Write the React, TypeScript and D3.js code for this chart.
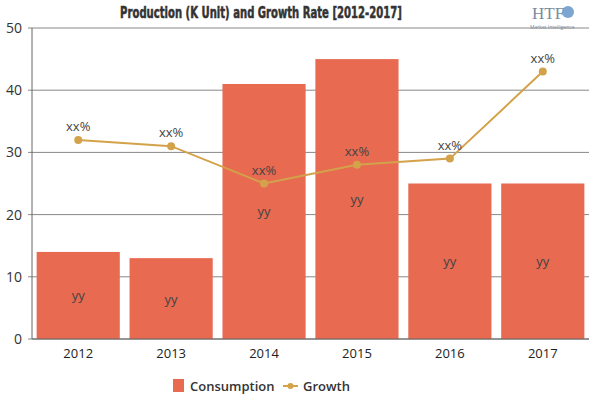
import React from "react";
import * as d3 from "d3";

const years = ["2012", "2013", "2014", "2015", "2016", "2017"];
const consumption = [14, 13, 41, 45, 25, 25];
const growth = [32, 31, 25, 28, 29, 43];
const yTicks = [0, 10, 20, 30, 40, 50];
const barLabel = "yy";
const pointLabel = "xx%";
const title = "Production (K Unit) and Growth Rate [2012-2017]";

const W = 600, H = 400;
const m = { left: 32, right: 11, top: 28, bottom: 61 };
const barColor = "#E76A51";
const lineColor = "#D3A24A";
const font = "'Open Sans', 'Noto Sans', sans-serif";

export default function App() {
  const x = d3.scaleBand<string>().domain(years).range([m.left, W - m.right]).paddingInner(0.105).paddingOuter(0.05);
  const y = d3.scaleLinear().domain([0, 50]).range([H - m.bottom, m.top]);
  const xc = (d: string) => (x(d) as number) + x.bandwidth() / 2;
  const line = d3.line<number>().x((_, i) => xc(years[i])).y((v) => y(v));
  return (
    <div style={{ position: "absolute", left: 0, top: 0, width: W, height: H }}>
      <svg width={W} height={H} style={{ display: "block" }}>
        <rect width={W} height={H} fill="#fff" />
        <text x={261} y={18} textAnchor="middle" fontFamily="'DejaVu Sans Condensed', 'DejaVu Sans', sans-serif" fontWeight="bold" fontSize={16} fill="#333" stroke="#333" strokeWidth={0.5} transform="translate(261,0) scale(0.7,1) translate(-261,0)">{title}</text>
        <text x={532} y={19} fontFamily="'Liberation Serif', serif" fontSize={17} fill="#7a8ba0">HTF</text>
        <circle cx={568} cy={12} r={6} fill="#5b8fc4" opacity={0.8} />
        <text x={530} y={29} fontFamily={font} fontSize={5} fill="#7a8ba0">Market Intelligence</text>
        {yTicks.map((t) => (
          <g key={t}>
            <line x1={m.left - 4} x2={W - m.right} y1={y(t)} y2={y(t)} stroke="#888" strokeWidth={1} />
            <text x={22} y={y(t) + 5} textAnchor="end" fontFamily={font} fontSize={14} fill="#333">{t}</text>
          </g>
        ))}
        {consumption.map((v, i) => (
          <rect key={i} x={x(years[i])} y={y(v)} width={x.bandwidth()} height={y(0) - y(v)} fill={barColor} />
        ))}
        <line x1={m.left} x2={m.left} y1={m.top} y2={y(0)} stroke="#666" />
        <line x1={m.left} x2={W - m.right} y1={y(0)} y2={y(0)} stroke="#666" />
        {years.map((d) => (
          <text key={d} x={xc(d)} y={358} textAnchor="middle" fontFamily={font} fontSize={13} fill="#222">{d}</text>
        ))}
        {consumption.map((v, i) => (
          <text key={i} x={xc(years[i])} y={(y(v) + y(0)) / 2 + 5} textAnchor="middle" fontFamily={font} fontSize={13} fill="#444">{barLabel}</text>
        ))}
        <path d={line(growth) || ""} fill="none" stroke={lineColor} strokeWidth={2} />
        {growth.map((v, i) => (
          <g key={i}>
            <circle cx={xc(years[i])} cy={y(v)} r={4} fill={lineColor} />
            <text x={xc(years[i])} y={y(v) - 9} textAnchor="middle" fontFamily={font} fontSize={13} fill="#444">{pointLabel}</text>
          </g>
        ))}
        <rect x={173} y={379} width={11} height={13} fill={barColor} />
        <text x={190} y={391} fontFamily={font} fontSize={13} fontWeight={600} fill="#333">Consumption</text>
        <line x1={283} x2={298} y1={386} y2={386} stroke={lineColor} strokeWidth={2} />
        <circle cx={290.5} cy={386} r={3} fill={lineColor} />
        <text x={303} y={391} fontFamily={font} fontSize={13} fontWeight={600} fill="#333">Growth</text>
      </svg>
    </div>
  );
}
